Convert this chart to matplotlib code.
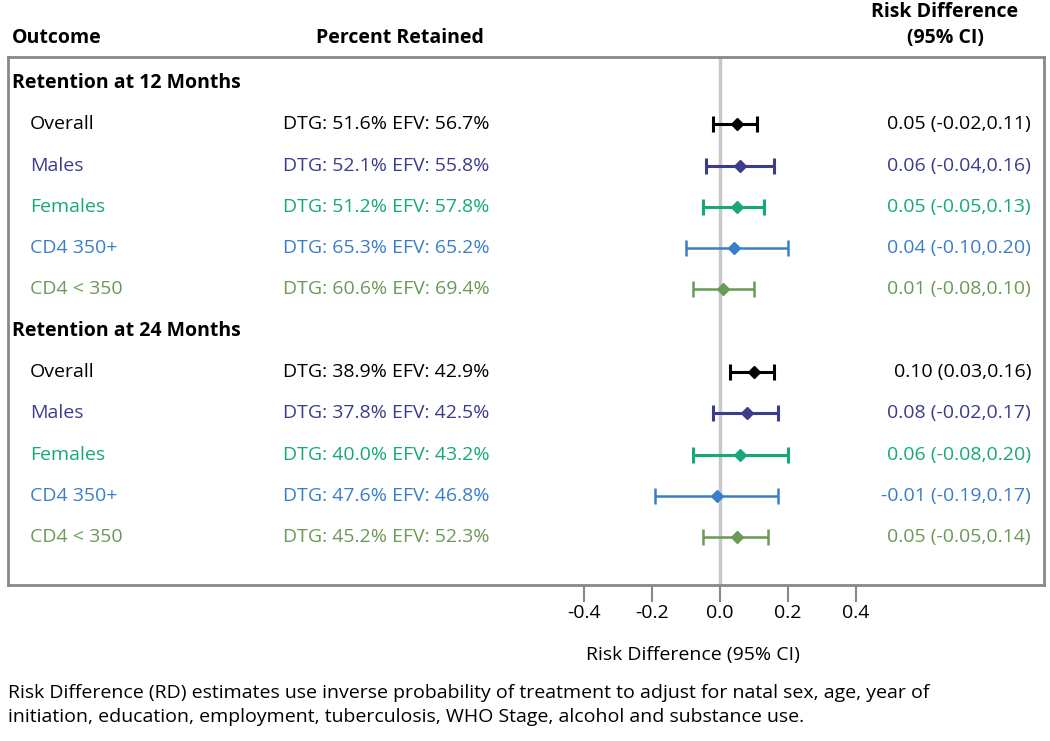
import matplotlib.pyplot as plt
import matplotlib.transforms as mtransforms
import numpy as np

plt.rcParams['font.family'] = ['Open Sans', 'DejaVu Sans']

sections = ["Retention at 12 Months", "Retention at 24 Months"]
groups = ["Overall", "Males", "Females", "CD4 350+", "CD4 < 350"]
colors = ["#000000", "#3b3d8c", "#16a87c", "#3a7ecb", "#6a9a56"]

pct_12 = ["DTG: 51.6% EFV: 56.7%", "DTG: 52.1% EFV: 55.8%", "DTG: 51.2% EFV: 57.8%",
          "DTG: 65.3% EFV: 65.2%", "DTG: 60.6% EFV: 69.4%"]
pct_24 = ["DTG: 38.9% EFV: 42.9%", "DTG: 37.8% EFV: 42.5%", "DTG: 40.0% EFV: 43.2%",
          "DTG: 47.6% EFV: 46.8%", "DTG: 45.2% EFV: 52.3%"]

rd_12 = [0.05, 0.06, 0.05, 0.04, 0.01]
lo_12 = [-0.02, -0.04, -0.05, -0.10, -0.08]
hi_12 = [0.11, 0.16, 0.13, 0.20, 0.10]

rd_24 = [0.10, 0.08, 0.06, -0.01, 0.05]
lo_24 = [0.03, -0.02, -0.08, -0.19, -0.05]
hi_24 = [0.16, 0.17, 0.20, 0.17, 0.14]

xticks = [-0.4, -0.2, 0.0, 0.2, 0.4]

W, H = 1050, 741
fig = plt.figure(figsize=(W / 100, H / 100), dpi=100)

# box spans pixels x 8..1044, y 57..585 ; zero at x=720, 340 px per unit
box_l, box_r, box_t, box_b = 8, 1044, 57, 585
ax = fig.add_axes([box_l / W, 1 - box_b / H, (box_r - box_l) / W, (box_b - box_t) / H])
ax.set_xlim((box_l - 720) / 340, (box_r - 720) / 340)
row_px = 41.3
ax.set_ylim((box_b - 83) / row_px, (box_t - 83) / row_px)

for s in ax.spines.values():
    s.set_color("#888888")
    s.set_linewidth(2)

ax.axvline(0, color="#c8c8c8", lw=2.5, zorder=0)

trans = mtransforms.blended_transform_factory(fig.transFigure, ax.transData)
fs = 14

blocks = [(pct_12, rd_12, lo_12, hi_12), (pct_24, rd_24, lo_24, hi_24)]
for b, (pcts, rds, los, his) in enumerate(blocks):
    y0 = b * 6
    ax.text(12 / W, y0, sections[b], transform=trans, fontsize=fs, fontweight="bold",
            va="center", ha="left")
    for i, g in enumerate(groups):
        y = y0 + 1 + i
        c = colors[i]
        lw = 2.2 if i < 3 else 1.8
        ax.errorbar([rds[i]], [y], xerr=[[rds[i] - los[i]], [his[i] - rds[i]]],
                    fmt="D", color=c, ms=6, lw=lw, capsize=6, capthick=lw)
        ax.text(30 / W, y, g, transform=trans, fontsize=fs, color=c, va="center", ha="left")
        ax.text(283 / W, y, pcts[i], transform=trans, fontsize=fs, color=c,
                va="center", ha="left")
        ax.text(1031 / W, y, "%.2f (%.2f,%.2f)" % (rds[i], los[i], his[i]),
                transform=trans, fontsize=fs, color=c, va="center", ha="right")

ax.set_yticks([])
ax.set_xticks(xticks)
ax.set_xticklabels(["%.1f" % t for t in xticks], fontsize=fs)
ax.tick_params(axis="x", direction="out", length=12, width=1.5, color="#888888", pad=2)
ax.set_xlabel("Risk Difference (95% CI)", fontsize=fs, va="center")
ax.xaxis.set_label_coords((693 - box_l) / (box_r - box_l), -(655 - box_b) / (box_b - box_t))

fig.text(12 / W, 1 - 38 / H, "Outcome", fontsize=fs, fontweight="bold", va="center")
fig.text(400 / W, 1 - 38 / H, "Percent Retained", fontsize=fs, fontweight="bold",
         va="center", ha="center")
fig.text(945 / W, 1 - 25 / H, "Risk Difference\n(95% CI)", fontsize=fs, fontweight="bold",
         va="center", ha="center", linespacing=1.45)

fig.text(8 / W, 1 - 705 / H,
         "Risk Difference (RD) estimates use inverse probability of treatment to adjust for natal sex, age, year of\n"
         "initiation, education, employment, tuberculosis, WHO Stage, alcohol and substance use.",
         fontsize=fs, va="center", ha="left", linespacing=1.5)

fig.savefig("out.png", dpi=100)
